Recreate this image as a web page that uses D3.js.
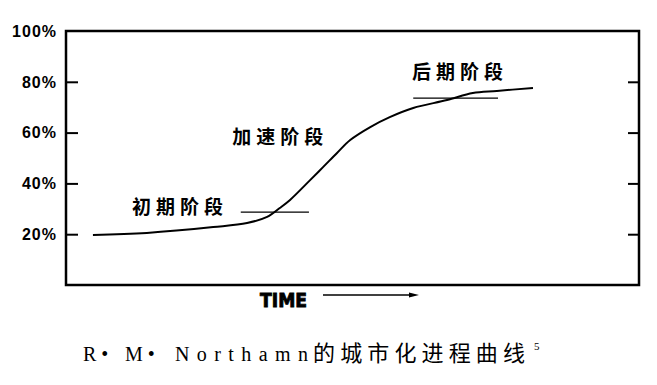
<!DOCTYPE html>
<html>
<head>
<meta charset="utf-8">
<style>
body { margin: 0; background: #fff; }
svg { display: block; }
.tick-label { font-family: "Liberation Sans", Arial, sans-serif; font-weight: bold; font-size: 16px; letter-spacing: 1px; }
.stage { font-family: "Noto Sans CJK SC", sans-serif; font-weight: bold; font-size: 19px; letter-spacing: 5px; }
.cap { font-family: "Liberation Serif", serif; font-size: 20px; }
</style>
</head>
<body>
<svg id="chart" width="657" height="385"></svg>
<script src="https://d3js.org/d3.v7.min.js"></script>
<script>
// time (arbitrary units 0-100) and urbanisation level (%)
let time = [4.7, 14.1, 25.7, 31.6, 35.1, 37.3, 39.1, 42.6, 44.9, 47.3, 49.6, 53.1, 56.5, 60.6, 66.5, 71.0, 75.2, 81.5];
let level = [19.7, 20.5, 22.8, 24.4, 26.8, 30.3, 33.5, 41.3, 46.5, 52.0, 57.1, 62.2, 66.1, 69.7, 72.8, 75.6, 76.4, 77.6];
let yTicks = [20, 40, 60, 80, 100];
let stages = ["初期阶段", "加速阶段", "后期阶段"];
let stageAt = [[11.5, 30.7], [29.0, 58.3], [60.4, 83.9]];
// short horizontal marks at the stage boundaries: [t0, t1, level]
let marks = [[30.5, 42.4, 28.7], [60.6, 75.4, 73.6]];

let svg = d3.select("#chart");
let x = d3.scaleLinear().domain([0, 100]).range([66, 639]);
let y = d3.scaleLinear().domain([0, 100]).range([285, 31]);

// frame
svg.append("rect")
    .attr("x", x(0)).attr("y", y(100))
    .attr("width", x(100) - x(0)).attr("height", y(0) - y(100))
    .attr("fill", "none").attr("stroke", "#000").attr("stroke-width", 2.5);

// inner ticks left and right
let inner = yTicks.filter(d => d < 100);
svg.append("g").attr("transform", "translate(" + x(0) + ",0)")
    .call(d3.axisRight(y).tickValues(inner).tickSize(12).tickFormat(""))
    .call(g => g.select(".domain").remove())
    .call(g => g.selectAll("line").attr("stroke-width", 2));
svg.append("g").attr("transform", "translate(" + x(100) + ",0)")
    .call(d3.axisLeft(y).tickValues(inner).tickSize(11).tickFormat(""))
    .call(g => g.select(".domain").remove())
    .call(g => g.selectAll("line").attr("stroke-width", 2));

// y labels
svg.append("g").selectAll("text")
    .data(yTicks)
    .join("text")
    .attr("class", "tick-label")
    .attr("x", 57)
    .attr("y", d => y(d))
    .attr("dy", "0.36em")
    .attr("text-anchor", "end")
    .text(d => d + "%");

// curve
let pts = time.map((t, i) => [t, level[i]]);
svg.append("path")
    .datum(pts)
    .attr("fill", "none")
    .attr("stroke", "#000")
    .attr("stroke-width", 2)
    .attr("d", d3.line().x(d => x(d[0])).y(d => y(d[1])).curve(d3.curveCatmullRom.alpha(0.5)));

// boundary marks
svg.append("g").selectAll("line")
    .data(marks)
    .join("line")
    .attr("x1", d => x(d[0])).attr("x2", d => x(d[1]))
    .attr("y1", d => y(d[2])).attr("y2", d => y(d[2]))
    .attr("stroke", "#000").attr("stroke-width", 1.3);

// stage labels
svg.append("g").selectAll("text")
    .data(stages)
    .join("text")
    .attr("class", "stage")
    .attr("x", (d, i) => x(stageAt[i][0]))
    .attr("y", (d, i) => y(stageAt[i][1]))
    .attr("dy", "0.35em")
    .text(d => d);

// TIME with arrow
svg.append("text")
    .attr("x", 260).attr("y", 307)
    .attr("font-family", "'Liberation Sans Narrow', 'DejaVu Sans Condensed', sans-serif")
    .attr("font-weight", "bold")
    .attr("font-size", 19)
    .attr("textLength", 47)
    .attr("lengthAdjust", "spacingAndGlyphs")
    .style("stroke", "#000").style("stroke-width", 0.8)
    .text("TIME");
svg.append("line")
    .attr("x1", 323).attr("x2", 412).attr("y1", 295).attr("y2", 295)
    .attr("stroke", "#000").attr("stroke-width", 1.5);
svg.append("path")
    .attr("d", "M409,292.5 L419,295 L409,297.5 Z")
    .attr("fill", "#000");

// caption
svg.append("text").attr("class", "cap").attr("x", 83).attr("y", 361).text("R •");
svg.append("text").attr("class", "cap").attr("x", 125).attr("y", 361).text("M •");
svg.append("text").attr("class", "cap").attr("x", 175).attr("y", 361)
    .attr("textLength", 133).attr("lengthAdjust", "spacing").text("Northamn");
svg.append("text")
    .attr("x", 313).attr("y", 361)
    .attr("font-family", "'Noto Sans CJK SC', sans-serif")
    .attr("font-size", 22)
    .attr("textLength", 212)
    .attr("lengthAdjust", "spacing")
    .text("的城市化进程曲线");
svg.append("text")
    .attr("x", 534).attr("y", 350)
    .attr("font-family", "'Liberation Serif', serif")
    .attr("font-size", 11)
    .text("5");
</script>
</body>
</html>
